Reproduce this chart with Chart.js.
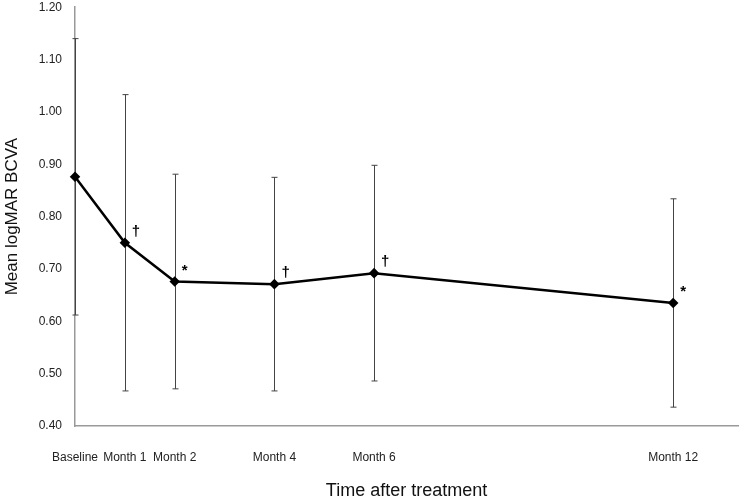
<!DOCTYPE html>
<html>
<head>
<meta charset="utf-8">
<script src="https://cdn.jsdelivr.net/npm/chart.js@4.4.1/dist/chart.umd.min.js"></script>
<style>
  html, body { margin: 0; padding: 0; background: #fff; }
  #wrap { width: 744px; height: 502px; }
</style>
</head>
<body>
<div id="wrap"><canvas id="chart" width="744" height="502"></canvas></div>
<script>
// months after treatment and their axis labels
const months = [0, 1, 2, 4, 6, 12];
const monthLabels = ['Baseline', 'Month 1', 'Month 2', 'Month 4', 'Month 6', 'Month 12'];
// mean logMAR BCVA and its error (SD)
const meanBcva = [0.876, 0.750, 0.676, 0.671, 0.692, 0.635];
const sdBcva = [0.264, 0.283, 0.205, 0.204, 0.206, 0.199];
// significance marks next to each point
const sigMarks = ['', '\u2020', '*', '\u2020', '\u2020', '*'];
const yTicks = [0.40, 0.50, 0.60, 0.70, 0.80, 0.90, 1.00, 1.10, 1.20];

// error bars behind the line, marks on top
const errorBars = {
    id: 'errorBars',
    beforeDatasetsDraw(chart) {
        const ctx = chart.ctx;
        const x = chart.scales.x, y = chart.scales.y;
        ctx.save();
        ctx.strokeStyle = '#444';
        ctx.lineWidth = 1;
        months.forEach((m, i) => {
            const px = Math.round(x.getPixelForValue(m)) + 0.5;
            const top = y.getPixelForValue(meanBcva[i] + sdBcva[i]);
            const bot = y.getPixelForValue(meanBcva[i] - sdBcva[i]);
            ctx.beginPath();
            ctx.moveTo(px, top);
            ctx.lineTo(px, bot);
            ctx.moveTo(px - 3, top);
            ctx.lineTo(px + 3, top);
            ctx.moveTo(px - 3, bot);
            ctx.lineTo(px + 3, bot);
            ctx.stroke();
        });
        ctx.restore();
    },
    afterDatasetsDraw(chart) {
        const ctx = chart.ctx;
        const x = chart.scales.x, y = chart.scales.y;
        ctx.save();
        ctx.fillStyle = '#000';
        ctx.font = 'bold 15px "Liberation Sans", Arial, sans-serif';
        ctx.textAlign = 'left';
        ctx.textBaseline = 'middle';
        months.forEach((m, i) => {
            if (!sigMarks[i]) return;
            ctx.fillText(sigMarks[i], x.getPixelForValue(m) + 7, y.getPixelForValue(meanBcva[i]) - 11);
        });
        ctx.restore();
    }
};

const ctx = document.getElementById('chart').getContext('2d');
new Chart(ctx, {
    type: 'line',
    plugins: [errorBars],
    data: {
        datasets: [{
            data: months.map((m, i) => ({ x: m, y: meanBcva[i] })),
            borderColor: '#000',
            backgroundColor: '#000',
            borderWidth: 2.5,
            pointStyle: 'rectRot',
            pointRadius: 3.5,
            pointHoverRadius: 3.5,
            tension: 0,
            clip: false
        }]
    },
    options: {
        responsive: false,
        animation: false,
        layout: { padding: { top: 7, right: 3, left: 0, bottom: 0 } },
        plugins: {
            legend: { display: false },
            tooltip: { enabled: false }
        },
        scales: {
            x: {
                type: 'linear',
                min: 0,
                max: 13.3,
                afterBuildTicks: s => { s.ticks = months.map(v => ({ value: v })); },
                afterFit: s => { s.height = 76; },
                grid: { display: false, drawTicks: false },
                border: { display: true, color: '#999', width: 1.5 },
                ticks: {
                    autoSkip: false,
                    maxRotation: 0,
                    padding: 24,
                    color: '#222',
                    font: { family: '"Liberation Sans", Arial, sans-serif', size: 12 },
                    callback: v => monthLabels[months.indexOf(v)]
                },
                title: {
                    display: true,
                    text: 'Time after treatment',
                    color: '#111',
                    font: { family: '"Liberation Sans", Arial, sans-serif', size: 18 },
                    padding: { top: 8, bottom: 0 }
                }
            },
            y: {
                min: 0.40,
                max: 1.20,
                afterBuildTicks: s => { s.ticks = yTicks.map(v => ({ value: v })); },
                afterFit: s => { s.width = 75; },
                grid: {
                    display: false,
                    drawTicks: true,
                    tickLength: 13,
                    tickColor: 'rgba(0,0,0,0)'
                },
                border: { display: true, color: '#999', width: 1.5 },
                ticks: {
                    padding: 0,
                    color: '#222',
                    font: { family: '"Liberation Sans", Arial, sans-serif', size: 12 },
                    callback: v => v.toFixed(2)
                },
                title: {
                    display: true,
                    text: 'Mean logMAR BCVA',
                    color: '#111',
                    font: { family: '"Liberation Sans", Arial, sans-serif', size: 17 },
                    padding: { top: 2, bottom: 5 }
                }
            }
        }
    }
});
</script>
</body>
</html>
